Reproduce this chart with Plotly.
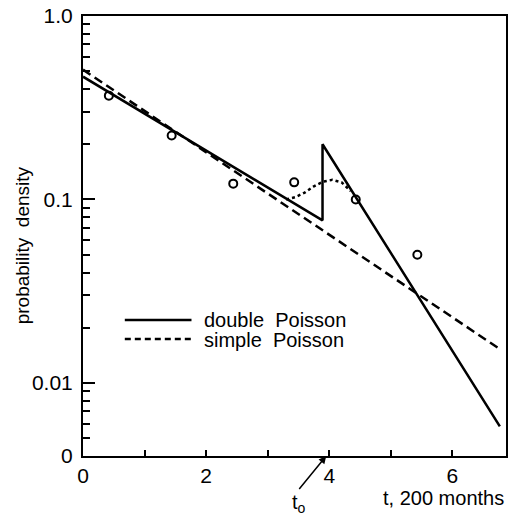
import plotly.graph_objects as go

# ---- data ----
double_t = [0.0, 3.89, 3.89, 6.77]
double_p = [0.467, 0.077, 0.20, 0.0058]

simple_t = [0.0, 6.77]
simple_p = [0.51, 0.0153]

dotted_t = [3.30, 3.45, 3.60, 3.75, 3.90, 4.05, 4.20, 4.35]
dotted_p = [0.100, 0.103, 0.109, 0.118, 0.125, 0.128, 0.124, 0.111]

obs_t = [0.42, 1.44, 2.44, 3.43, 4.43, 5.43]
obs_p = [0.368, 0.223, 0.122, 0.124, 0.100, 0.050]

x_tickvals = [0, 2, 4, 6]
x_ticktext = ["0", "2", "4", "6"]
y_tickvals = [0.004, 0.01, 0.1, 1.0]
y_ticktext = ["0", "0.01", "0.1", "1.0"]
y_minor = [m * 10.0 ** e for e in (-3, -2, -1) for m in range(2, 10) if m * 10.0 ** e > 0.0045]

t0 = 3.95
FONT = "Liberation Sans, Arial, sans-serif"

fig = go.Figure()
fig.add_trace(go.Scatter(x=simple_t, y=simple_p, mode="lines",
                         line=dict(color="black", width=2.5, dash="9px,5px"), showlegend=False))
fig.add_trace(go.Scatter(x=double_t, y=double_p, mode="lines",
                         line=dict(color="black", width=2.5), showlegend=False))
fig.add_trace(go.Scatter(x=dotted_t, y=dotted_p, mode="lines",
                         line=dict(color="black", width=2.5, dash="dot"), showlegend=False))
fig.add_trace(go.Scatter(x=obs_t, y=obs_p, mode="markers",
                         marker=dict(symbol="circle-open", size=8, color="black", line=dict(width=2)),
                         showlegend=False))

# legend drawn manually (long line samples like the reference)
fig.add_shape(type="line", xref="paper", yref="paper", x0=(125 - 83) / 425, x1=(192 - 83) / 425,
              y0=(456 - 320) / 440, y1=(456 - 320) / 440, line=dict(color="black", width=2.5))
fig.add_shape(type="line", xref="paper", yref="paper", x0=(125 - 83) / 425, x1=(192 - 83) / 425,
              y0=(456 - 339) / 440, y1=(456 - 339) / 440, line=dict(color="black", width=2.5, dash="6px,4px"))
fig.add_annotation(xref="paper", yref="paper", x=(203 - 83) / 425, y=(456 - 320) / 440,
                   text="double  Poisson", showarrow=False, xanchor="left", yanchor="middle",
                   font=dict(family=FONT, size=20, color="black"))
fig.add_annotation(xref="paper", yref="paper", x=(203 - 83) / 425, y=(456 - 340) / 440,
                   text="simple  Poisson", showarrow=False, xanchor="left", yanchor="middle",
                   font=dict(family=FONT, size=20, color="black"))

# y title
fig.add_annotation(xref="paper", yref="paper", x=(22 - 83) / 425, y=(456 - 245) / 440,
                   text="probability  density", textangle=-90, showarrow=False,
                   xanchor="center", yanchor="middle", font=dict(family=FONT, size=19, color="black"))
# x title
fig.add_annotation(xref="paper", yref="paper", x=1.0, y=(456 - 498) / 440,
                   text="t, 200 months", showarrow=False, xanchor="right", yanchor="middle",
                   font=dict(family=FONT, size=20, color="black"))
# t0 arrow
fig.add_annotation(xref="x", yref="paper", x=t0, y=0.0, text="t<sub>o</sub>",
                   showarrow=True, arrowhead=2, arrowsize=1, arrowwidth=1.5, arrowcolor="black",
                   ax=-27, ay=33, yanchor="top", font=dict(family=FONT, size=20, color="black"))

fig.update_xaxes(range=[0, 6.87], tickvals=x_tickvals, ticktext=x_ticktext,
                 ticks="inside", ticklen=6, tickwidth=1.5, tickcolor="black",
                 minor=dict(dtick=1, tick0=0, ticks="inside", ticklen=6, tickwidth=1.5, tickcolor="black", showgrid=False),
                 showline=True, linecolor="black", linewidth=2, mirror=True,
                 showgrid=False, zeroline=False,
                 tickfont=dict(family=FONT, size=21, color="black"))
fig.update_yaxes(type="log", range=[-2.398, 0], tickvals=y_tickvals, ticktext=y_ticktext,
                 ticks="inside", ticklen=12, tickwidth=1.5, tickcolor="black",
                 minor=dict(tickvals=y_minor, ticks="inside", ticklen=7, tickwidth=1.5, tickcolor="black", showgrid=False),
                 showline=True, linecolor="black", linewidth=2, mirror=True,
                 showgrid=False, zeroline=False, ticklabelstandoff=4,
                 tickfont=dict(family=FONT, size=21, color="black"))

fig.update_layout(width=510, height=519, margin=dict(l=83, r=2, t=16, b=63),
                  paper_bgcolor="white", plot_bgcolor="white", showlegend=False)

fig.write_html("out.html")
